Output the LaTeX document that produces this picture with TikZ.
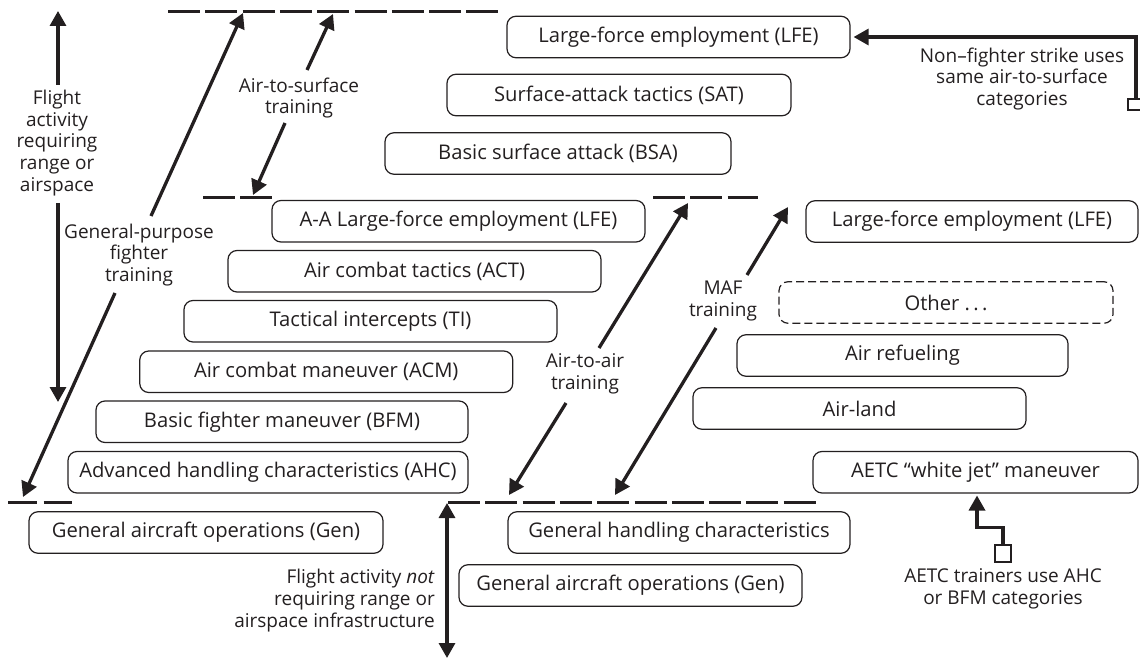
\documentclass[tikz,border=0pt]{standalone}
\usepackage{fontspec}
\setmainfont{Open Sans}
\usetikzlibrary{arrows.meta}
\definecolor{ink}{RGB}{35,31,32}
\newcommand\boxfont{\fontsize{20.2}{24}\selectfont}
\newcommand\lblfont{\fontsize{19}{21.7}\selectfont}
\begin{document}
\begin{tikzpicture}[x=1pt,y=-1pt,
  box/.style={draw=ink, line width=1.2pt, rounded corners=9pt, minimum height=41.5pt, inner sep=0pt, font=\boxfont, text=ink},
  dbox/.style={box, dash pattern=on 8pt off 4pt},
  lbl/.style={align=center, font=\lblfont, text=ink, inner sep=0pt},
  arr/.style={line width=3.3pt, draw=ink, -{Triangle[length=15pt,width=16pt]}},
  darr/.style={line width=3.3pt, draw=ink, {Triangle[length=15pt,width=16pt]}-{Triangle[length=15pt,width=16pt]}},
  dline/.style={line width=3pt, draw=ink, dash pattern=on 32pt off 5.3pt},
  sq/.style={draw=ink, line width=1.2pt, fill=white, inner sep=0pt}
]
\useasboundingbox (0,0) rectangle (1140,660);
\clip (0,0) rectangle (1140,660);

% boxes: air-to-surface
\node[box, minimum width=343pt] (lfeA) at (678.5,37) {Large-force employment (LFE)};
\node[box, minimum width=344pt] (sat) at (619,95) {Surface-attack tactics (SAT)};
\node[box, minimum width=346pt] (bsa) at (558,153.5) {Basic surface attack (BSA)};
% air-to-air
\node[box, minimum width=373pt] (aalfe) at (458.5,221.25) {A-A Large-force employment (LFE)};
\node[box, minimum width=373pt] (act) at (414.5,271.25) {Air combat tactics (ACT)};
\node[box, minimum width=373pt] (ti) at (370.5,321.25) {Tactical intercepts (TI)};
\node[box, minimum width=373pt] (acm) at (326.25,371.75) {Air combat maneuver (ACM)};
\node[box, minimum width=372pt] (bfm) at (282,421.75) {Basic fighter maneuver (BFM)};
\node[box, minimum width=400pt] (ahc) at (268,472.25) {Advanced handling characteristics (AHC)};
\node[box, minimum width=354pt] (genA) at (206,532.5) {General aircraft operations (Gen)};
% bottom right
\node[box, minimum width=342pt] (ghc) at (679,532.5) {General handling characteristics};
\node[box, minimum width=343pt] (genB) at (630.5,585.5) {General aircraft operations (Gen)};
% MAF
\node[box, minimum width=332pt] (lfeB) at (972,221.5) {Large-force employment (LFE)};
\node[dbox, minimum width=334pt] (other) at (946,302.5) {Other\ .\,.\,.};
\node[box, minimum width=331pt] (refuel) at (902.5,355.5) {Air refueling};
\node[box, minimum width=333pt] (airland) at (859.5,408.5) {Air-land};
\node[box, minimum width=325pt] (aetc) at (975.5,472.25) {AETC \textquotedblleft white jet\textquotedblright\ maneuver};

% dashed level lines
\coordinate (d1a) at (168,12);   \coordinate (d1b) at (498,12);
\coordinate (d2a) at (203,197.5); \coordinate (d2b) at (272,197.5);
\coordinate (d3a) at (653,197.5); \coordinate (d3b) at (758,197.5);
\coordinate (d4a) at (8,502);    \coordinate (d4b) at (72,502);
\coordinate (d5a) at (448,502);  \coordinate (d5b) at (816,502);
\draw[dline] (d1a) -- (d1b);
\draw[dline] (d2a) -- (d2b);
\draw[dline] (d3a) -- (d3b);
\draw[dline, dash pattern=on 28.5pt off 7pt] (d4a) -- (d4b);
\draw[dline] (d5a) -- (d5b);

% labels
\node[lbl] (lflight) at (57,143) {Flight\\activity\\requiring\\range or\\airspace};
\node[lbl] (lgp) at (139,255) {General-purpose\\fighter\\training};
\node[lbl] (lats) at (299,98) {Air-to-surface\\training};
\node[lbl] (laa) at (585,374) {Air-to-air\\training};
\node[lbl] (lmaf) at (723,301) {MAF\\training};
\node[lbl, align=right, anchor=east] (lnot) at (435,600.5) {Flight activity \emph{not}\\requiring range or\\airspace infrastructure};
\node[lbl] (lnf) at (1022,79) {Non–fighter strike uses\\same air-to-surface\\categories};
\node[lbl] (laetc) at (1003,589) {AETC trainers use AHC\\or BFM categories};

% range/airspace arrow
\coordinate (v1top) at (58,11);  \coordinate (v1a) at (58,85);
\coordinate (v1b) at (58,203);   \coordinate (v1bot) at (58,402);
\draw[arr] (v1a) -- (v1top);
\draw[arr] (v1b) -- (v1bot);
% general-purpose fighter training
\coordinate (gptop) at (243,13); \coordinate (gpa) at (151,216);
\coordinate (gpb) at (115,293);  \coordinate (gpbot) at (23,497);
\draw[arr] (gpa) -- (gptop);
\draw[arr] (gpb) -- (gpbot);
% air-to-surface training
\coordinate (atstop) at (333,14); \coordinate (atsa) at (307,70);
\coordinate (atsb) at (285,123);  \coordinate (atsbot) at (253,195);
\draw[arr] (atsa) -- (atstop);
\draw[arr] (atsb) -- (atsbot);
% air-to-air training
\coordinate (aatop) at (688,203); \coordinate (aaa) at (599,348);
\coordinate (aab) at (566,403);   \coordinate (aabot) at (509,495);
\draw[arr] (aaa) -- (aatop);
\draw[arr] (aab) -- (aabot);
% MAF training
\coordinate (maftop) at (788,207); \coordinate (mafa) at (747,275);
\coordinate (mafb) at (716,328);   \coordinate (mafbot) at (615,495);
\draw[arr] (mafa) -- (maftop);
\draw[arr] (mafb) -- (mafbot);
% not requiring range
\coordinate (nrtop) at (447,503); \coordinate (nrbot) at (447,658);
\draw[darr] (nrtop) -- (nrbot);

% callouts
\node[sq, minimum width=16pt, minimum height=11pt] (nfsq) at (1136,104.5) {};
\draw[arr] (nfsq.north) |- ([xshift=3pt]lfeA.east);
\node[sq, minimum width=16pt, minimum height=17pt] (aesq) at (1003,553.5) {};
\coordinate (aetip) at (977,495.5);
\draw[arr] (aesq.north) -- ++(0,-17) -| (aetip);
\end{tikzpicture}
\end{document}
